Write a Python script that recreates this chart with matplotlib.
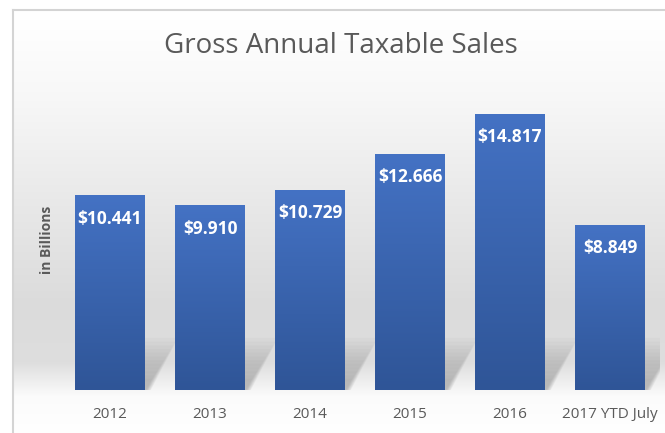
import numpy as np
import matplotlib.pyplot as plt
from matplotlib.patches import Polygon
from matplotlib.colors import LinearSegmentedColormap

# data
years = ['2012', '2013', '2014', '2015', '2016', '2017 YTD July']
sales = [10.441, 9.910, 10.729, 12.666, 14.817, 8.849]
labels = ['$10.441', '$9.910', '$10.729', '$12.666', '$14.817', '$8.849']

plt.rcParams['font.family'] = ['Open Sans', 'DejaVu Sans']

W, H = 665, 433
fig = plt.figure(figsize=(W / 100, H / 100), dpi=100)

# background: white outside, chart area with a soft vertical gray gradient
bg = fig.add_axes([0, 0, 1, 1], zorder=0)
bg.set_xlim(0, W)
bg.set_ylim(H, 0)
bg.axis('off')
py = np.array([0, 10, 90, 200, 300, 360, 395, 433])
gv = np.array([1.0, 1.0, 0.97, 0.91, 0.86, 0.87, 0.985, 1.0])
col = np.interp(np.arange(H), py, gv)
img = np.repeat(col[:, None], 2, axis=1)
img = np.dstack([img, img, img])
bg.imshow(img, extent=(13, W, H, 10), aspect='auto', interpolation='bilinear')
bg.plot([13, 13], [H, 10], color='#d4d4d4', lw=1.5)
bg.plot([13, W], [10, 10], color='#d4d4d4', lw=1.5)

fig.text(0.513, 0.893, 'Gross Annual Taxable Sales', ha='center', va='center',
         fontsize=20, color='#595959')
fig.text(47 / W, 1 - 240 / H, 'in Billions', rotation=90, ha='center',
         va='center', fontsize=10, color='#595959', fontweight='bold')

ax = fig.add_axes([60 / W, 1 - 390 / H, 600 / W, 330 / H], zorder=1)
ax.patch.set_alpha(0)
x = np.arange(len(years))
ax.set_xlim(-0.5, 5.5)
ax.set_ylim(0, 330 / 18.63)

bars = ax.bar(x, sales, width=0.7, color='none', zorder=3)

# soft shadows behind the bars
for xi, v in zip(x, sales):
    for k in range(12):
        s = 1 - k / 14
        l, r = xi - 0.35, xi + 0.35
        dy = 2.8 * s
        dx = 0.33 * s
        poly = Polygon([(l, 0), (r + 0.06 * s, 0), (r + dx, dy), (l + dx, dy)],
                       closed=True, facecolor='#6a6a6a', edgecolor='none',
                       alpha=0.04, zorder=2)
        ax.add_patch(poly)

# gradient fill for bars
cmap = LinearSegmentedColormap.from_list('bar', ['#2f5597', '#4472c4'])
grad = np.linspace(0, 1, 256)[:, None]
for b in bars:
    bx, by = b.get_x(), b.get_y()
    bw, bh = b.get_width(), b.get_height()
    im = ax.imshow(grad, cmap=cmap, extent=(bx, bx + bw, by, by + bh),
                   origin='lower', aspect='auto', zorder=3)
    im.set_clip_path(b)

for xi, v, lab in zip(x, sales, labels):
    ax.text(xi, v - 1.25, lab, ha='center', va='center', color='white',
            fontsize=12.5, fontweight='bold', zorder=4)

ax.set_xticks(x)
ax.set_xticklabels(years, fontsize=11, color='#595959')
ax.tick_params(axis='x', length=0, pad=12)
ax.set_yticks([])
for sp in ax.spines.values():
    sp.set_visible(False)

fig.savefig('out.png', dpi=100)
